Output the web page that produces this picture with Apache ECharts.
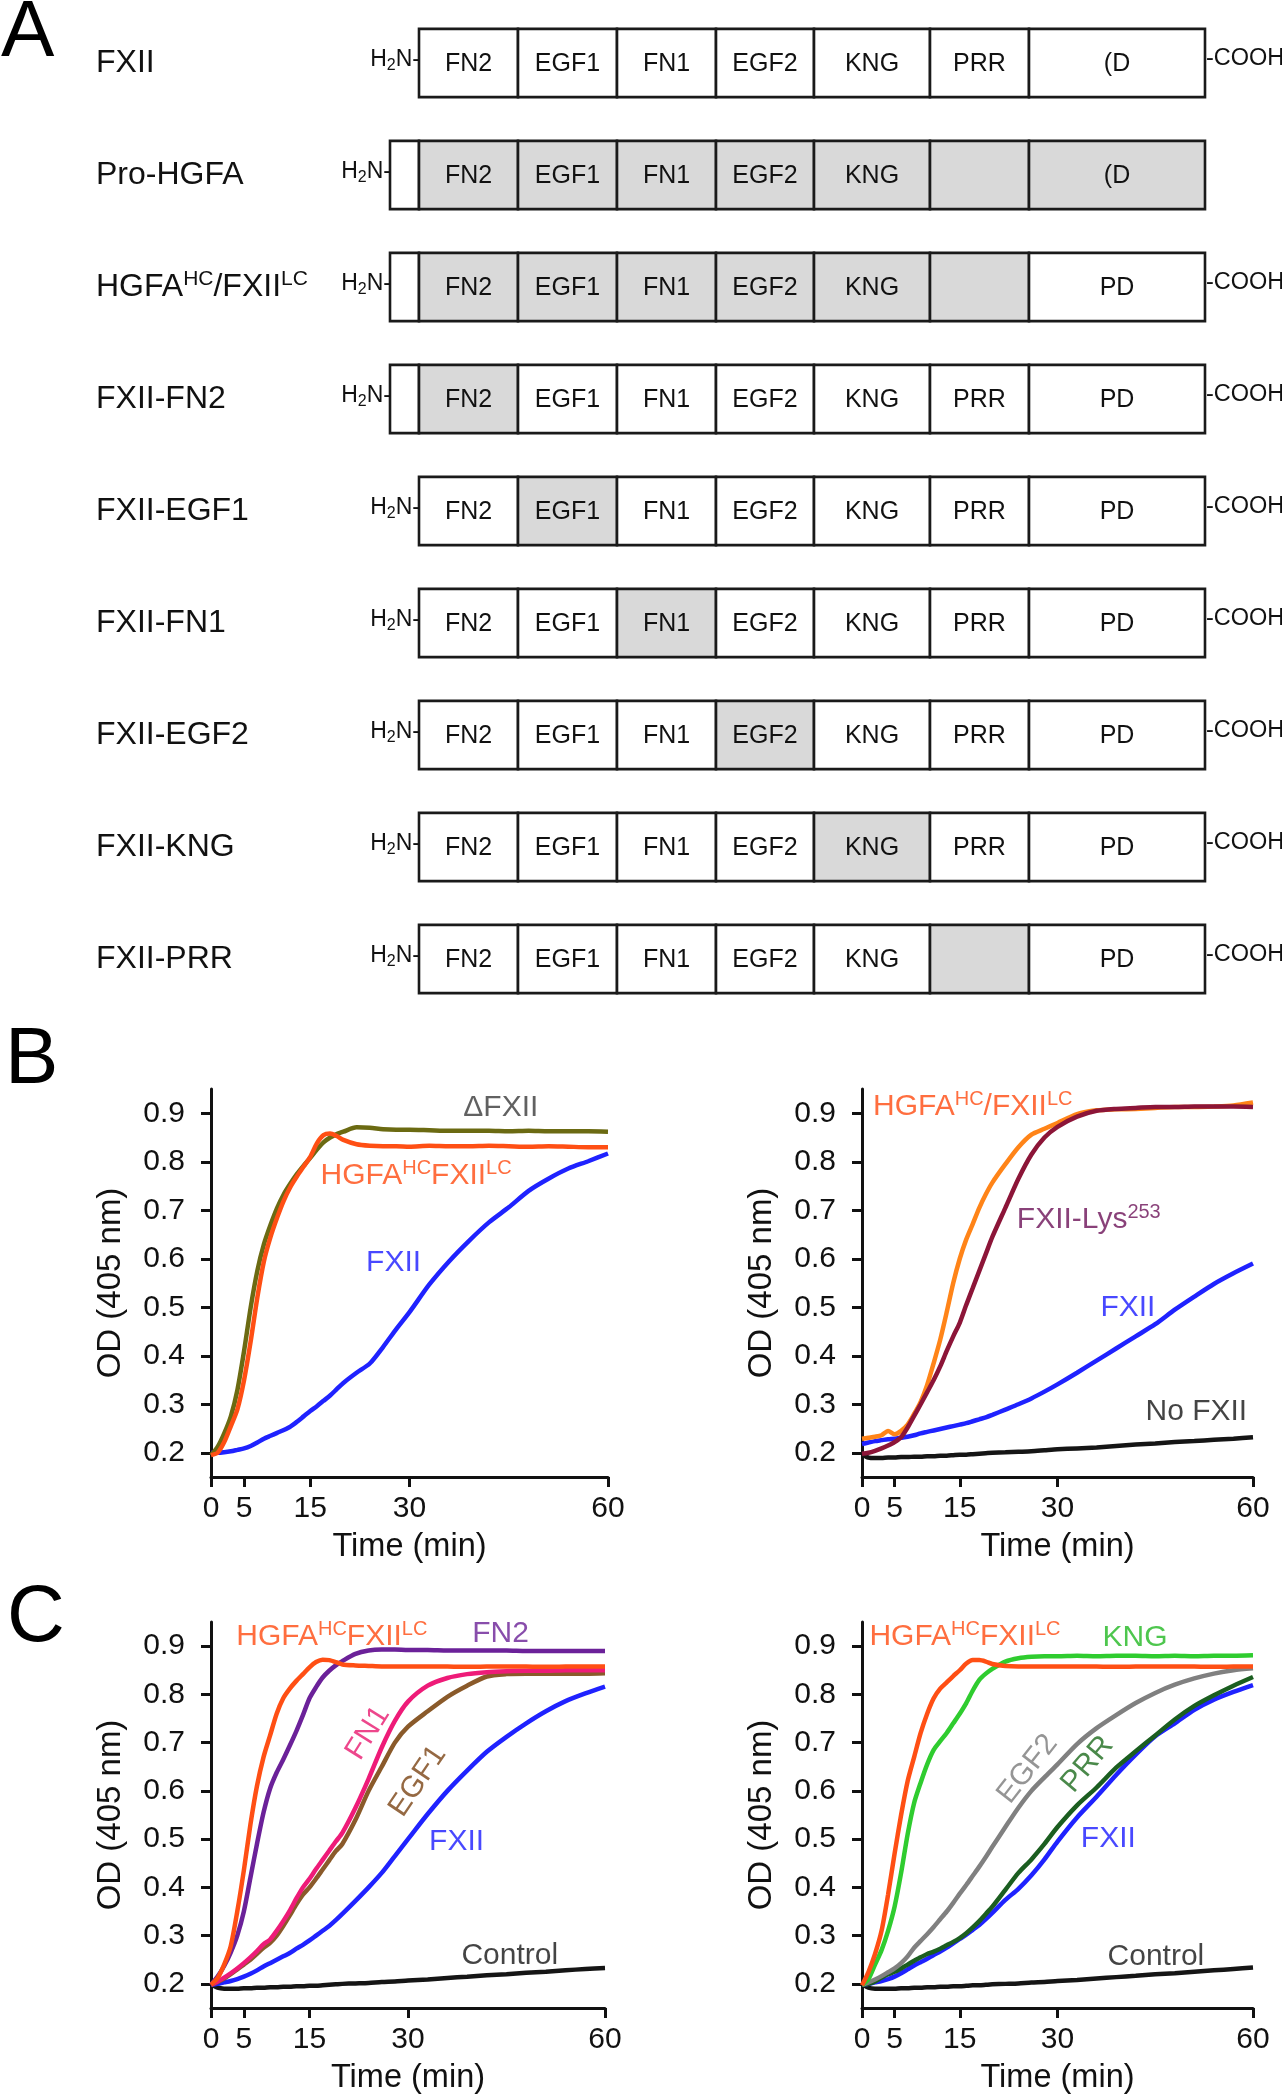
<!DOCTYPE html>
<html><head><meta charset="utf-8">
<script src="https://cdn.jsdelivr.net/npm/echarts@6/dist/echarts.min.js"></script>
<style>html,body{margin:0;padding:0;background:#fff}#c{width:1282px;height:2100px}</style>
</head><body><div id="c"></div>
<script>
const FONT = '"Liberation Sans", Arial, Helvetica, sans-serif';

// ---------- Panel A : domain schematic ----------
const constructNames = ['FXII','Pro-HGFA','HGFA^{HC}/FXII^{LC}','FXII-FN2','FXII-EGF1','FXII-FN1','FXII-EGF2','FXII-KNG','FXII-PRR'];
const domainNames = ['', 'FN2','EGF1','FN1','EGF2','KNG','PRR','PD'];
const domainLengths = [29, 99, 99, 99, 98, 116, 99, 176];
const hasLeader = [0,1,1,1,0,0,0,0,0];
const hasCOOH = [1,0,1,1,1,1,1,1,1];
const shadedDomains = [[],[1,2,3,4,5,6,7],[1,2,3,4,5,6],[1],[2],[3],[4],[5],[6]];
const prrLabels = ['PRR','','','PRR','PRR','PRR','PRR','PRR',''];
const pdLabels = ['(D','(D','PD','PD','PD','PD','PD','PD','PD'];

// ---------- Panels B and C : time courses ----------
const T = [0,1,2,3,4,5,6,7,8,9,10,11,12,13,14,15,16,17,18,19,20,22,24,26,28,30,33,36,39,42,45,48,51,54,57,60];
const xTicks = [0,5,15,30,60];
const yTicks = [0.2,0.3,0.4,0.5,0.6,0.7,0.8,0.9];

const bL_DeltaFXII = [.195,.212,.24,.275,.33,.41,.5,.575,.63,.67,.705,.733,.755,.775,.792,.808,.825,.84,.85,.857,.862,.871,.87,.867,.866,.866,.865,.864,.864,.864,.863,.864,.863,.863,.863,.862];
const bL_HGFA = [.195,.2,.222,.255,.29,.35,.43,.52,.595,.645,.685,.72,.748,.77,.79,.81,.838,.855,.858,.853,.845,.836,.833,.832,.832,.831,.833,.832,.832,.833,.832,.831,.832,.831,.83,.83];
const bL_FXII = [.2,.2,.201,.203,.206,.209,.214,.221,.229,.235,.241,.247,.254,.264,.275,.286,.296,.307,.318,.331,.344,.365,.384,.418,.455,.49,.547,.595,.637,.675,.706,.74,.765,.786,.801,.817];

const bR_HGFA = [.229,.231,.233,.236,.245,.238,.245,.258,.28,.305,.34,.385,.433,.49,.55,.6,.64,.672,.705,.733,.757,.795,.83,.856,.868,.88,.898,.906,.908,.909,.911,.913,.913,.914,.916,.922];
const bR_Lys253 = [.198,.2,.204,.209,.215,.222,.232,.252,.276,.3,.325,.35,.378,.41,.44,.468,.505,.54,.575,.61,.645,.705,.765,.815,.85,.872,.893,.905,.909,.911,.913,.913,.914,.914,.914,.913];
const bR_FXII = [.218,.221,.224,.226,.228,.229,.231,.233,.236,.24,.243,.246,.249,.252,.255,.258,.261,.265,.269,.273,.278,.289,.3,.312,.326,.341,.365,.39,.415,.44,.465,.495,.522,.548,.57,.59];
const bR_NoFXII = [.197,.19,.189,.189,.19,.19,.191,.191,.192,.192,.193,.193,.194,.194,.195,.196,.196,.197,.198,.199,.2,.201,.202,.203,.205,.207,.209,.211,.214,.217,.219,.222,.224,.227,.229,.232];

const cL_HGFA = [.198,.212,.24,.278,.35,.435,.53,.61,.67,.715,.76,.792,.812,.828,.842,.856,.867,.872,.871,.867,.862,.86,.859,.858,.858,.858,.858,.858,.857,.858,.858,.858,.857,.858,.858,.858];
const cL_FN2 = [.198,.215,.237,.265,.3,.35,.42,.49,.555,.605,.638,.665,.694,.724,.757,.792,.815,.835,.849,.86,.869,.884,.891,.893,.893,.892,.892,.891,.891,.891,.891,.89,.89,.89,.89,.89];
const cL_FN1 = [.198,.205,.213,.222,.232,.243,.255,.268,.282,.292,.31,.33,.352,.377,.4,.418,.438,.457,.476,.495,.513,.565,.625,.69,.745,.785,.818,.834,.842,.846,.848,.849,.849,.85,.85,.85];
const cL_EGF1 = [.198,.204,.211,.22,.23,.24,.25,.262,.275,.285,.3,.32,.342,.365,.385,.4,.418,.437,.456,.475,.49,.54,.6,.65,.7,.733,.765,.795,.818,.837,.842,.843,.843,.843,.843,.844];
const cL_FXII = [.198,.2,.203,.206,.21,.215,.221,.228,.236,.243,.25,.257,.264,.273,.281,.29,.3,.31,.32,.332,.345,.372,.4,.43,.465,.5,.552,.6,.642,.681,.712,.74,.765,.786,.802,.816];
const cL_Control = [.2,.192,.19,.19,.19,.191,.191,.192,.192,.193,.193,.194,.194,.195,.195,.196,.196,.197,.198,.199,.2,.201,.202,.204,.205,.207,.209,.212,.215,.218,.22,.223,.225,.228,.231,.233];

const cR_HGFA = [.197,.225,.262,.31,.385,.47,.55,.62,.67,.72,.76,.792,.812,.825,.838,.85,.864,.871,.871,.868,.863,.859,.858,.858,.858,.858,.858,.858,.857,.858,.858,.858,.858,.857,.858,.858];
const cR_KNG = [.198,.21,.24,.27,.31,.36,.43,.51,.575,.617,.655,.685,.703,.72,.74,.76,.782,.808,.83,.843,.853,.868,.875,.878,.879,.879,.88,.879,.88,.88,.879,.88,.879,.88,.88,.881];
const cR_EGF2 = [.198,.203,.209,.216,.224,.232,.243,.257,.275,.289,.303,.318,.334,.35,.368,.387,.405,.424,.443,.463,.484,.525,.565,.6,.628,.655,.697,.73,.757,.782,.803,.82,.833,.843,.85,.854];
const cR_PRR = [.198,.2,.205,.213,.22,.225,.232,.24,.248,.255,.262,.267,.273,.28,.287,.295,.305,.317,.33,.345,.36,.395,.43,.458,.49,.525,.57,.607,.648,.682,.715,.748,.776,.798,.818,.836];
const cR_FXII = [.198,.2,.203,.206,.21,.215,.222,.23,.238,.245,.252,.26,.267,.275,.284,.293,.302,.312,.322,.334,.347,.374,.397,.425,.458,.495,.545,.588,.633,.675,.713,.74,.768,.789,.805,.819];
const cR_Control = [.2,.192,.19,.19,.19,.19,.191,.191,.192,.192,.193,.193,.194,.194,.195,.195,.196,.197,.197,.198,.199,.2,.201,.203,.204,.206,.208,.211,.214,.217,.22,.222,.225,.228,.231,.234];

// ---------- helpers ----------
const INK = '#111';
function richify(s){ return s.replace(/\^\{([^}]*)\}/g, '{sup|$1}'); }

// panel A cells
const cells = [];
constructNames.forEach((nm, i) => {
  let x = 0; let first = true;
  for (let j = 0; j < domainNames.length; j++) {
    const s = x, e = x + domainLengths[j];
    x = e;
    if (j === 0 && !hasLeader[i]) continue;
    let text = domainNames[j];
    if (j === 6) text = prrLabels[i];
    if (j === 7) text = pdLabels[i];
    cells.push({start:s, end:e, row:i, shaded: shadedDomains[i].indexOf(j) >= 0,
      text, first, cooh: (j === domainNames.length-1) && hasCOOH[i]});
    first = false;
  }
});

function renderDomain(params, api){
  const m = cells[params.dataIndex];
  const p0 = api.coord([m.start, m.row]);
  const p1 = api.coord([m.end, m.row]);
  const h = api.size([0,1])[1] * 0.61;
  const ch = [{type:'rect', shape:{x:p0[0], y:p0[1]-h/2, width:p1[0]-p0[0], height:h},
    style:{fill: m.shaded ? '#d9d9d9' : '#ffffff', stroke:'#1a1a1a', lineWidth:2.6}}];
  if (m.text) ch.push({type:'text', style:{text:m.text, x:(p0[0]+p1[0])/2, y:p0[1]+1, align:'center', verticalAlign:'middle', fontSize:25, fontFamily:FONT, fill:INK}});
  if (m.first) ch.push({type:'text', style:{text:'{a|H}{b|2}{a|N-}', x:p0[0]+1, y:p0[1]-3, align:'right', verticalAlign:'middle',
    rich:{a:{fontSize:23, lineHeight:27, fontFamily:FONT, fill:INK, verticalAlign:'middle'}, b:{fontSize:16, lineHeight:16, fontFamily:FONT, fill:INK, verticalAlign:'bottom'}}}});
  if (m.cooh) ch.push({type:'text', style:{text:'-COOH', x:p1[0]+1, y:p0[1]-4, align:'left', verticalAlign:'middle', fontSize:23.5, fontFamily:FONT, fill:INK}});
  return {type:'group', children:ch};
}

const grids = [
  {left:390, top:7, width:815, height:1008},
  {left:211, top:1089, width:397, height:388},
  {left:862, top:1089, width:391, height:388},
  {left:211, top:1622, width:394, height:386},
  {left:862, top:1622, width:391, height:386}
];

const xAxes = [{gridIndex:0, type:'value', min:0, max:815, show:false}];
const yAxes = [{gridIndex:0, type:'category', data:constructNames, inverse:true,
  axisLine:{show:false}, axisTick:{show:false}, splitLine:{show:false},
  axisLabel:{show:true, align:'left', margin:294, fontSize:32, color:INK, fontFamily:FONT, lineHeight:36,
    formatter: v => richify(v), rich:{sup:{fontSize:21, lineHeight:21, verticalAlign:'top', color:INK, fontFamily:FONT}}}}];

for (let g = 1; g <= 4; g++) {
  xAxes.push({gridIndex:g, type:'value', min:0, max:60,
    name:'Time (min)', nameLocation:'middle', nameGap:54,
    nameTextStyle:{fontSize:32.5, color:INK, fontFamily:FONT},
    axisLine:{show:true, onZero:false, lineStyle:{color:INK, width:3}},
    axisTick:{show:true, customValues:xTicks, length:10, lineStyle:{color:INK, width:3}},
    axisLabel:{show:true, customValues:xTicks, fontSize:30, color:INK, fontFamily:FONT, margin:17},
    splitLine:{show:false}});
  yAxes.push({gridIndex:g, type:'value', min:0.15, max:0.95,
    name:'OD (405 nm)', nameLocation:'middle', nameGap:84, nameRotate:90,
    nameTextStyle:{fontSize:33, color:INK, fontFamily:FONT},
    axisLine:{show:true, onZero:false, lineStyle:{color:INK, width:3}},
    axisTick:{show:true, customValues:yTicks, length:10, lineStyle:{color:INK, width:3}},
    axisLabel:{show:true, customValues:yTicks, fontSize:30, color:INK, fontFamily:FONT, margin:26,
      formatter: v => Number(v).toFixed(1)},
    splitLine:{show:false}});
}

const series = [{type:'custom', xAxisIndex:0, yAxisIndex:0, renderItem:renderDomain,
  encode:{x:[0,2], y:1}, data: cells.map(c => [c.start, c.row, c.end]), silent:true, z:2}];

function line(g, vals, color, z){
  series.push({type:'line', xAxisIndex:g, yAxisIndex:g, data:T.map((t,i)=>[t, vals[i]]),
    showSymbol:false, symbol:'none', smooth:0.25, silent:true, z: z||3,
    lineStyle:{width:4.5, color}, itemStyle:{color}});
}
function notes(g, list){
  series.push({type:'scatter', xAxisIndex:g, yAxisIndex:g, symbolSize:0, silent:true, z:10,
    data: list.map(n => ({value:[n.t, n.v], label:{show:true, position:'inside', formatter: richify(n.text),
      color:n.color, rotate:n.rot||0, fontSize:30, fontFamily:FONT, lineHeight:34,
      rich:{sup:{fontSize:20, lineHeight:20, verticalAlign:'top', color:n.color, fontFamily:FONT}}}}))});
}

const C_ORANGE_RED = '#ff4f14', C_BLUE = '#1f22ff', C_BLACK = '#151515';

// B left
line(1, bL_FXII, C_BLUE);
line(1, bL_DeltaFXII, '#6b6a12');
line(1, bL_HGFA, C_ORANGE_RED, 4);
notes(1, [
  {text:'ΔFXII', t:43.8, v:0.911, color:'#3a3a3a'},
  {text:'HGFA^{HC}FXII^{LC}', t:31.0, v:0.771, color:'#ff4a0f'},
  {text:'FXII', t:27.6, v:0.591, color:'#1a1aff'}
]);
// B right
line(2, bR_NoFXII, C_BLACK);
line(2, bR_FXII, C_BLUE);
line(2, bR_HGFA, '#ff8418');
line(2, bR_Lys253, '#8c1538', 4);
notes(2, [
  {text:'HGFA^{HC}/FXII^{LC}', t:17.0, v:0.913, color:'#ff4a0f'},
  {text:'FXII-Lys^{253}', t:34.8, v:0.68, color:'#6b1257'},
  {text:'FXII', t:40.8, v:0.5, color:'#1a1aff'},
  {text:'No FXII', t:51.3, v:0.284, color:C_BLACK}
]);
// C left
line(3, cL_Control, C_BLACK);
line(3, cL_FXII, C_BLUE);
line(3, cL_EGF1, '#8a5a2a');
line(3, cL_FN1, '#ee1b78');
line(3, cL_FN2, '#6b2199');
line(3, cL_HGFA, C_ORANGE_RED, 4);
notes(3, [
  {text:'HGFA^{HC}FXII^{LC}', t:18.4, v:0.92, color:'#ff4a0f'},
  {text:'FN2', t:44.1, v:0.926, color:'#6a2096'},
  {text:'FN1', t:23.9, v:0.72, color:'#e8196f', rot:58},
  {text:'EGF1', t:31.5, v:0.62, color:'#7b4314', rot:56},
  {text:'FXII', t:37.4, v:0.495, color:'#1a1aff'},
  {text:'Control', t:45.5, v:0.259, color:C_BLACK}
]);
// C right
line(4, cR_Control, C_BLACK);
line(4, cR_FXII, C_BLUE);
line(4, cR_PRR, '#1b5e20');
line(4, cR_EGF2, '#808080');
line(4, cR_KNG, '#2fcc2f');
line(4, cR_HGFA, C_ORANGE_RED, 4);
notes(4, [
  {text:'HGFA^{HC}FXII^{LC}', t:15.8, v:0.92, color:'#ff4a0f'},
  {text:'KNG', t:41.9, v:0.918, color:'#22b822'},
  {text:'EGF2', t:25.4, v:0.645, color:'#7a7a7a', rot:52},
  {text:'PRR', t:34.6, v:0.655, color:'#1d6b1d', rot:50},
  {text:'FXII', t:37.8, v:0.501, color:'#1a1aff'},
  {text:'Control', t:45.1, v:0.256, color:C_BLACK}
]);

const chart = echarts.init(document.getElementById('c'), null, {renderer:'canvas', width:1282, height:2100});
chart.setOption({
  animation:false,
  backgroundColor:'#ffffff',
  textStyle:{fontFamily:FONT},
  grid: grids.map(g => Object.assign({containLabel:false, outerBoundsMode:'none'}, g)),
  xAxis:xAxes, yAxis:yAxes, series,
  graphic:[
    {type:'text', x:1, y:34, style:{text:'A', fontSize:80, fontFamily:FONT, fill:'#000', align:'left', verticalAlign:'middle'}},
    {type:'text', x:5, y:1061, style:{text:'B', fontSize:80, fontFamily:FONT, fill:'#000', align:'left', verticalAlign:'middle'}},
    {type:'text', x:7, y:1619, style:{text:'C', fontSize:80, fontFamily:FONT, fill:'#000', align:'left', verticalAlign:'middle'}}
  ]
});
</script></body></html>
